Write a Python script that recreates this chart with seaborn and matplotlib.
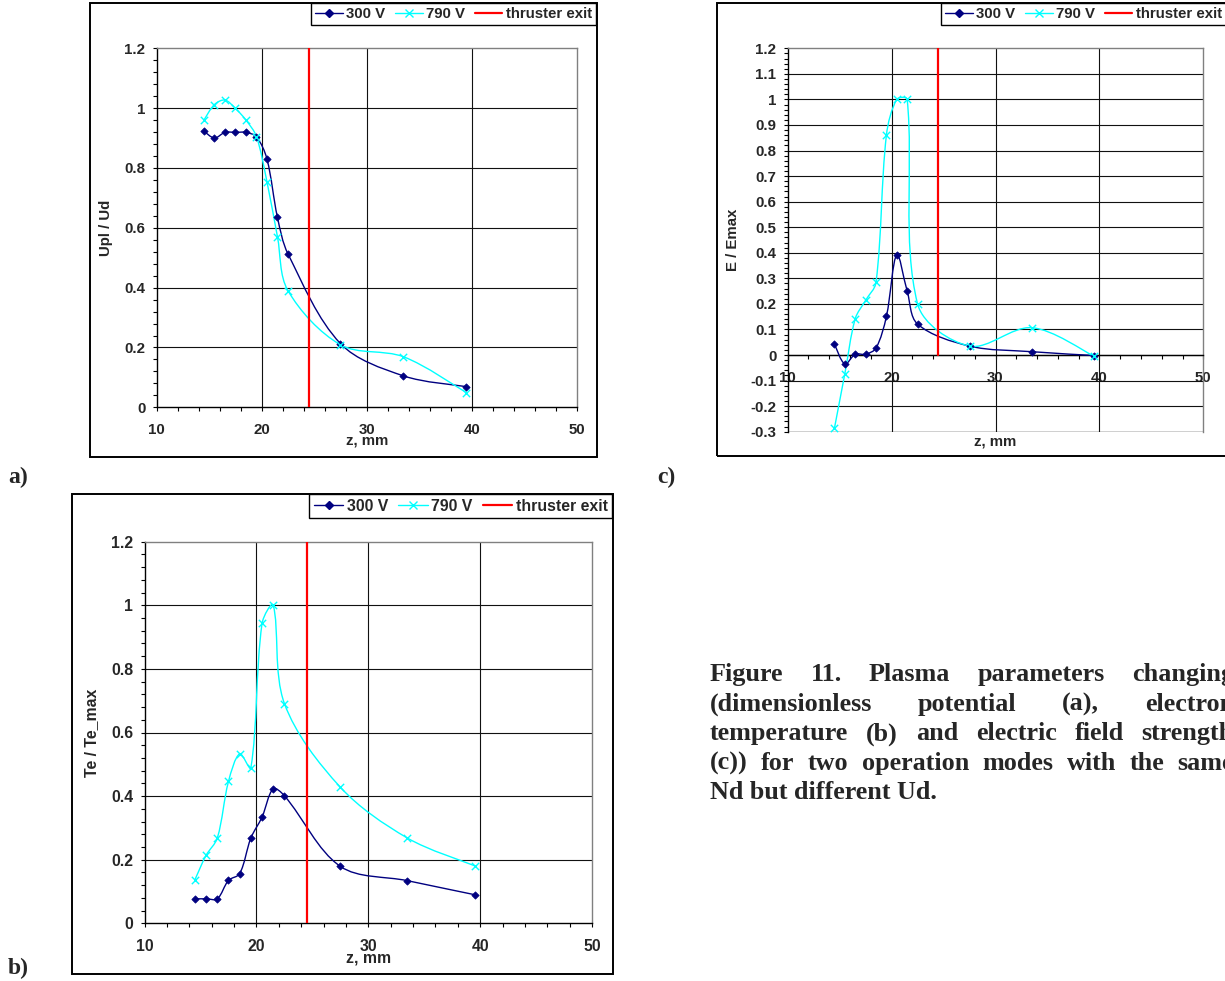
import numpy as np
import matplotlib
matplotlib.use("Agg")
import matplotlib.pyplot as plt
import seaborn as sns
from matplotlib.path import Path
from matplotlib.patches import PathPatch, Rectangle
from matplotlib.lines import Line2D
from matplotlib.ticker import MultipleLocator, FuncFormatter

# ---- measured profiles along the thruster axis ----
z_mm = [14.5, 15.5, 16.5, 17.5, 18.5, 19.5, 20.5, 21.5, 22.5, 27.5, 33.5, 39.5]

# (a) dimensionless plasma potential Upl/Ud
upl_300 = [0.923, 0.900, 0.919, 0.919, 0.919, 0.904, 0.830, 0.635, 0.513, 0.213, 0.105, 0.069]
upl_790 = [0.960, 1.012, 1.027, 0.999, 0.960, 0.905, 0.754, 0.570, 0.390, 0.209, 0.169, 0.049]

# (b) electron temperature Te/Te_max
te_300 = [0.077, 0.077, 0.077, 0.135, 0.156, 0.268, 0.334, 0.423, 0.401, 0.179, 0.134, 0.090]
te_790 = [0.137, 0.214, 0.268, 0.446, 0.533, 0.489, 0.943, 1.000, 0.691, 0.428, 0.268, 0.181]

# (c) electric field strength E/Emax
e_300 = [0.043, -0.035, 0.003, 0.003, 0.027, 0.151, 0.393, 0.250, 0.121, 0.035, 0.013, -0.002]
e_790 = [-0.286, -0.073, 0.142, 0.214, 0.284, 0.860, 1.000, 1.000, 0.200, 0.035, 0.107, -0.005]

exit_z = [24.5, 24.5]
exit_level = [0.0, 1.2]

series_labels = ["300 V", "790 V", "thruster exit"]
x_label = "z, mm"
y_labels = ["Upl / Ud", "Te / Te_max", "E / Emax"]
panel_tags = ["a)", "b)", "c)"]
caption_lines = [
    "Figure 11. Plasma parameters changing",
    "(dimensionless potential (a), electron",
    "temperature (b) and electric field strength",
    "(c)) for two operation modes with the same",
    "Nd but different Ud.",
]

NAVY = "#000080"
CYAN = "#00FFFF"
RED = "#FF0000"

W, H = 1225, 981
sns.set_theme(style="white")
plt.rcParams["font.family"] = ["Liberation Sans", "DejaVu Sans"]
plt.rcParams["font.weight"] = "bold"
plt.rcParams["axes.unicode_minus"] = False

fig = plt.figure(figsize=(W / 100, H / 100), dpi=100)
fig.patch.set_facecolor("white")


def px_axes(l, t, r, b):
    return fig.add_axes([l / W, 1 - b / H, (r - l) / W, (b - t) / H])


def px_rect(l, t, r, b, lw=1.4):
    fig.add_artist(Rectangle((l / W, 1 - b / H), (r - l) / W, (b - t) / H,
                             transform=fig.transFigure, fill=False,
                             edgecolor="black", linewidth=lw, zorder=0))


def smooth_path(ax, x, y):
    """Smoothed curve through every point: cubic Bezier segments whose
    tangents are scaled by the neighbouring chord lengths on screen."""
    p = ax.transData.transform(np.column_stack([x, y]).astype(float))
    n = len(p)
    d = np.hypot(*(p[1:] - p[:-1]).T)
    verts = [p[0]]
    codes = [Path.MOVETO]
    for i in range(n - 1):
        prev = p[i - 1] if i > 0 else p[i]
        nxt = p[i + 2] if i + 2 < n else p[i + 1]
        d_prev = d[i - 1] if i > 0 else d[i]
        d_next = d[i + 1] if i + 2 < n else d[i]
        c1 = p[i] + (p[i + 1] - prev) * d[i] / (3.0 * (d_prev + d[i]))
        c2 = p[i + 1] - (nxt - p[i]) * d[i] / (3.0 * (d[i] + d_next))
        verts += [c1, c2, p[i + 1]]
        codes += [Path.CURVE4] * 3
    verts = ax.transData.inverted().transform(np.array(verts))
    return Path(verts, codes)


def num_fmt(v, _):
    v = round(v, 6) + 0.0
    return f"{v:g}"


def draw_series(ax, y300, y790):
    ax.add_patch(PathPatch(smooth_path(ax, z_mm, y300), fill=False,
                           edgecolor=NAVY, linewidth=1.0, zorder=3))
    ax.add_patch(PathPatch(smooth_path(ax, z_mm, y790), fill=False,
                           edgecolor=CYAN, linewidth=1.0, zorder=3))
    sns.scatterplot(x=z_mm, y=y300, ax=ax, marker="D", s=14, color=NAVY,
                    edgecolor=NAVY, linewidth=0.5, zorder=5, legend=False)
    sns.scatterplot(x=z_mm, y=y790, ax=ax, marker="x", s=28, color=CYAN,
                    linewidth=1.0, zorder=5, legend=False)
    sns.lineplot(x=exit_z, y=exit_level, ax=ax, color=RED, linewidth=1.6,
                 estimator=None, sort=False, zorder=4, legend=False)


def style_panel(ax, ylim, ymajor, yminor, ylabel, fs, ylab_x, xlab_y,
                cross_zero=False):
    ax.set_xlim(10, 50)
    ax.set_ylim(*ylim)
    ax.xaxis.set_major_locator(MultipleLocator(10))
    ax.xaxis.set_minor_locator(MultipleLocator(2))
    ax.yaxis.set_major_locator(MultipleLocator(ymajor))
    ax.yaxis.set_minor_locator(MultipleLocator(yminor))
    ax.xaxis.set_major_formatter(FuncFormatter(num_fmt))
    ax.yaxis.set_major_formatter(FuncFormatter(num_fmt))
    ax.tick_params(axis="both", which="both", direction="out", length=3.2,
                   width=0.8, color="black", bottom=True, left=True,
                   top=False, right=False)
    ax.tick_params(axis="x", which="major", labelsize=fs, pad=8.0)
    ax.tick_params(axis="y", which="major", labelsize=fs, pad=5.0)
    for side in ("left", "bottom"):
        ax.spines[side].set_color("black")
        ax.spines[side].set_linewidth(1.0)
    for side in ("top", "right"):
        ax.spines[side].set_color("#808080")
        ax.spines[side].set_linewidth(1.0)
    # interior grid
    ticks = np.round(np.arange(ylim[0], ylim[1] + 1e-9, ymajor), 6)
    for t in ticks:
        if ylim[0] < t < ylim[1]:
            ax.axhline(t, color="#111111", linewidth=0.8, zorder=1)
    for xv in (20, 30, 40):
        ax.axvline(xv, color="#111111", linewidth=0.8, zorder=1)
    if cross_zero:
        ax.spines["bottom"].set_position(("data", 0))
        ax.axhline(ylim[0], color="#111111", linewidth=1.0, zorder=1)
    ax.set_xlabel(x_label, fontsize=fs, fontweight="bold")
    ax.set_ylabel(ylabel, fontsize=fs, fontweight="bold")
    ax.xaxis.set_label_coords(0.5, xlab_y)
    ax.yaxis.set_label_coords(ylab_x, 0.5)


def add_legend(right_px, top_px, fs):
    handles = [
        Line2D([], [], color=NAVY, lw=1.0, marker="D", ms=3.8, mec=NAVY),
        Line2D([], [], color=CYAN, lw=1.0, marker="x", ms=5.2, mew=1.0),
        Line2D([], [], color=RED, lw=1.6),
    ]
    leg = fig.legend(handles, series_labels, loc="upper right",
                     bbox_to_anchor=(right_px / W, 1 - top_px / H),
                     bbox_transform=fig.transFigure, ncol=3, fontsize=fs,
                     frameon=True, fancybox=False, edgecolor="black",
                     framealpha=1.0, handlelength=1.85, handletextpad=0.22,
                     columnspacing=0.65, borderpad=0.28, borderaxespad=0)
    leg.get_frame().set_linewidth(1.0)
    for t in leg.get_texts():
        t.set_fontweight("bold")
    return leg


# ---- panel (a) ----
px_rect(90, 3, 597, 457)
ax_a = px_axes(156.7, 48.3, 576.7, 407.3)
style_panel(ax_a, (0, 1.2), 0.2, 0.04, y_labels[0], 10.8, -0.104, -0.0735)
draw_series(ax_a, upl_300, upl_790)
add_legend(596, 3, 10.8)

# ---- panel (b) ----
px_rect(72, 494, 613, 974)
ax_b = px_axes(144.6, 541.7, 592.0, 923.3)
style_panel(ax_b, (0, 1.2), 0.2, 0.04, y_labels[1], 11.4, -0.102, -0.0713)
draw_series(ax_b, te_300, te_790)
add_legend(612, 494.5, 11.4)

# ---- panel (c) ----
px_rect(717, 3, 1240, 456)
ax_c = px_axes(787.7, 48.3, 1203.3, 431.7)
style_panel(ax_c, (-0.3, 1.2), 0.1, 0.02, y_labels[2], 10.8, -0.115, -0.007,
            cross_zero=True)
draw_series(ax_c, e_300, e_790)
add_legend(1226, 3, 10.8)

# ---- panel tags ----
serif = ["Liberation Serif", "DejaVu Serif"]
for tag, (xp, yp) in zip(panel_tags, [(8, 483), (8, 974), (657, 483)]):
    fig.text(xp / W, 1 - yp / H, tag, family=serif, fontsize=17,
             fontweight="bold", ha="left", va="baseline")

# ---- justified caption ----
cap_left, cap_right = 710, 1234
cap_base, cap_step = 681, 29.6
cap_fs = 18.8
renderer = fig.canvas.get_renderer()
for i, line in enumerate(caption_lines):
    yb = 1 - (cap_base + i * cap_step) / H
    if i == len(caption_lines) - 1:
        fig.text(cap_left / W, yb, line, family=serif, fontsize=cap_fs,
                 fontweight="bold", ha="left", va="baseline")
        continue
    words = line.split(" ")
    items = [fig.text(0, yb, w, family=serif, fontsize=cap_fs,
                      fontweight="bold", ha="left", va="baseline")
             for w in words]
    widths = [t.get_window_extent(renderer).width for t in items]
    gap = (cap_right - cap_left - sum(widths)) / (len(words) - 1)
    xpos = cap_left
    for t, wd in zip(items, widths):
        t.set_x(xpos / W)
        xpos += wd + gap

fig.savefig("out.png", dpi=100, facecolor="white")
